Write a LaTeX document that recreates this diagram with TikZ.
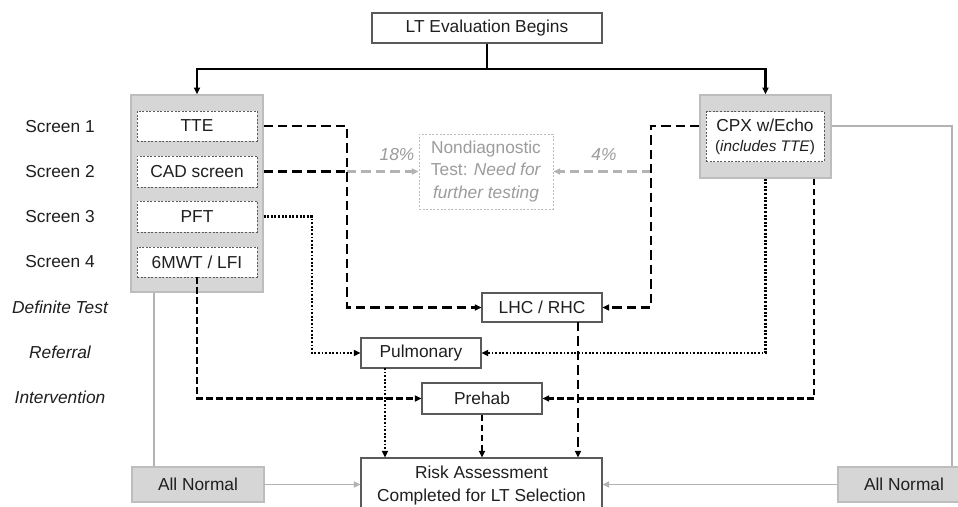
\documentclass[tikz,border=0pt]{standalone}
\usepackage{fontspec}
\setmainfont{Liberation Sans}
\usetikzlibrary{arrows.meta,calc}
\definecolor{txt}{HTML}{1F1F1F}
\definecolor{boxline}{HTML}{5A5A5A}
\definecolor{grayfill}{HTML}{D6D6D6}
\definecolor{grayedge}{HTML}{BDBDBD}
\definecolor{lightline}{HTML}{B3B3B3}
\definecolor{lighttext}{HTML}{9C9C9C}
\begin{document}
\begin{tikzpicture}[x=0.75pt,y=-0.75pt,
  font=\fontsize{13}{17}\selectfont,
  sz/.style 2 args={minimum width=#1*0.75pt, minimum height=#2*0.75pt},
  box/.style={draw=boxline, line width=0.8pt, fill=white, inner sep=0pt, align=center, text=txt},
  graybox/.style={draw=grayedge, line width=1pt, fill=grayfill, inner sep=0pt, align=center, text=txt},
  inbox/.style={draw=boxline, dash pattern=on 1.5pt off 1.2pt, line width=0.7pt, fill=white, inner sep=0pt, align=center, text=txt},
  ndbox/.style={draw=grayedge, dash pattern=on 1.5pt off 1.2pt, line width=0.7pt, fill=white, inner sep=0pt, align=center, text=lighttext},
  lab/.style={text=txt, inner sep=0pt},
  pct/.style={text=lighttext, inner sep=0pt, font=\fontsize{13}{15}\selectfont\itshape},
  tip/.style={-{Triangle[length=5pt,width=4.5pt]}},
  solidblk/.style={draw=black, line width=1.6pt},
  dshA/.style={draw=black, line width=1.6pt, dash pattern=on 7pt off 3.8pt},
  dshB/.style={draw=black, line width=1.6pt, dash pattern=on 5pt off 2.5pt},
  dotblk/.style={draw=black, line width=1.6pt, dash pattern=on 1.4pt off 1.3pt},
  graydsh/.style={draw=lightline, line width=1.6pt, dash pattern=on 7pt off 3.8pt},
  grayln/.style={draw=lightline, line width=1.2pt},
]
\useasboundingbox (0,0) rectangle (958,507);
\fill[white] (0,0) rectangle (958,507);
\clip (0,0) rectangle (958,507);

% nodes
\node[box, sz={230}{30}] (top) at (487,28) {LT Evaluation Begins};
\node[graybox, sz={132}{197}] (Lg) at (197,193.5) {};
\node[inbox, sz={120}{30}] (TTE) at (197,126) {TTE};
\node[inbox, sz={120}{31}] (CAD) at (197,171.5) {CAD screen};
\node[inbox, sz={120}{31}] (PFT) at (197,216.5) {PFT};
\node[inbox, sz={120}{30}] (MW) at (197,262) {6MWT / LFI};
\node[graybox, sz={131}{83}] (Rg) at (765.5,136.5) {};
\node[inbox, sz={118}{50}] (CPX) at (765,136.5) {CPX w/Echo\\[-2pt]{\fontsize{11.5}{13}\selectfont(\textit{includes TTE})}};
\node[ndbox, sz={134}{75}] (ND) at (486,171.5) {Nondiagnostic\\Test: \textit{Need for}\\\textit{further testing}};
\node[box, sz={120}{29}] (LHC) at (542,307.5) {LHC / RHC};
\node[box, sz={120}{30}] (Pulm) at (421,353) {Pulmonary};
\node[box, sz={120}{31}] (Pre) at (482,398.5) {Prehab};
\node[box, sz={241}{55}] (Risk) at (481.5,485.5) {Risk Assessment\\Completed for LT Selection};
\node[graybox, sz={132}{35}] (ANl) at (198,484.5) {All Normal};
\node[graybox, sz={132}{35}] (ANr) at (904,484.5) {All Normal};

% left labels
\node[lab] (s1) at (60,127) {Screen 1};
\node[lab] (s2) at (60,172) {Screen 2};
\node[lab] (s3) at (60,217) {Screen 3};
\node[lab] (s4) at (60,262) {Screen 4};
\node[lab, font=\fontsize{13}{17}\selectfont\itshape] (l5) at (60,307) {Definite Test};
\node[lab, font=\fontsize{13}{17}\selectfont\itshape] (l6) at (60,352) {Referral};
\node[lab, font=\fontsize{13}{17}\selectfont\itshape] (l7) at (60,397) {Intervention};

% percentages
\node[pct] (p18) at (397,155) {18\%};
\node[pct] (p4) at (604,155) {4\%};

% helper coordinates
\coordinate (j) at (487,69);
\coordinate (v1) at (347,307.5);
\coordinate (v2top) at (651,126);
\coordinate (v2) at (651,307.5);
\coordinate (rc) at (952,126);
\coordinate (c3) at (814,398.5);
\coordinate (c4) at (312,353);
\coordinate (c5) at (154,292);
\coordinate (pd) at (385,368);
\coordinate (ld) at (578,322);

% top split
\draw[solidblk] (top.south) -- (j);
\draw[solidblk, tip] (j) -| (Lg.north);
\draw[solidblk, tip] (j) -| (Rg.north);

% gray connectors to nondiagnostic
\draw[graydsh, tip] (v1 |- CAD) -- (ND.west |- CAD);
\draw[graydsh, tip] (v2 |- CAD) -- (ND.east |- CAD);

% TTE / CAD to LHC
\draw[dshA, tip] (Lg.east |- TTE) -| (v1) -- (LHC.west);
\draw[dshA] (Lg.east |- CAD) -- (v1 |- CAD);
% CPX to LHC
\draw[dshA, tip] (Rg.west |- v2top) -- (v2top) -- (v2) -- (LHC.east);

% PFT to Pulmonary
\draw[dotblk, tip] (Lg.east |- PFT) -| (c4) -- (Pulm.west);
% CPX to Pulmonary
\draw[dotblk, tip] (Rg.south) |- (Pulm.east);
% 6MWT to Prehab
\draw[dshB, tip] (MW.south) |- (Pre.west);
% CPX to Prehab
\draw[dshB, tip] (c3 |- Rg.south) -- (c3) -- (Pre.east);

% down to risk
\draw[dotblk, tip] (pd) -- (pd |- Risk.north);
\draw[dshB, tip] (Pre.south) -- (Pre.south |- Risk.north);
\draw[dshA, tip] (ld) -- (ld |- Risk.north);

% gray normal paths
\draw[grayln] (c5 |- Lg.south) -- (c5 |- ANl.north);
\draw[grayln, tip] (ANl.east) -- (ANl.east -| Risk.west);
\draw[grayln] (Rg.east |- rc) -- (rc) -- (rc |- ANr.north);
\draw[grayln, tip] (ANr.west) -- (ANr.west -| Risk.east);
\end{tikzpicture}
\end{document}
